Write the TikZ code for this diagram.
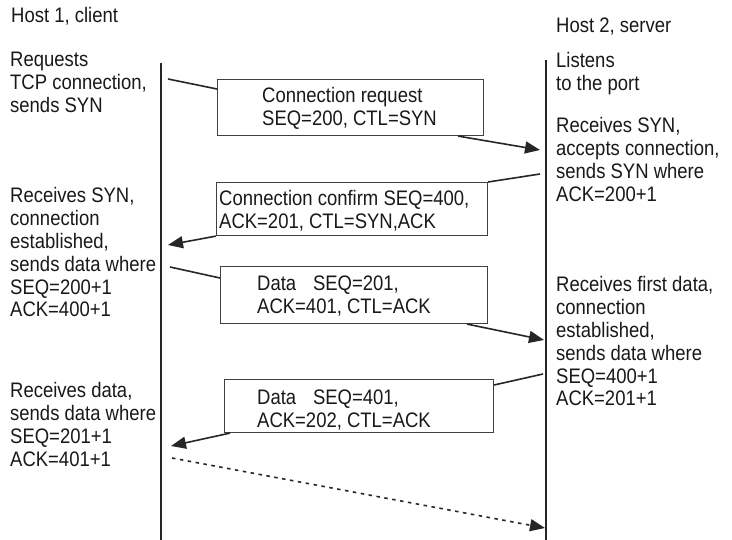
\documentclass[tikz,border=0pt]{standalone}
\usepackage{fontspec}
\setmainfont{Liberation Sans}[FakeStretch=0.88]
\usetikzlibrary{arrows.meta}
\newcommand{\fs}{\fontsize{21pt}{22.8pt}\selectfont}
\newcommand{\ml}[1]{\begin{tabular}[t]{@{}l@{}}#1\end{tabular}}
\begin{document}
\begin{tikzpicture}[x=1pt,y=-1pt,
  txt/.style={anchor=base west, inner sep=0pt, text=black!90, font=\fs},
  msgbox/.style={draw=black!75, line width=1.1pt, inner sep=0pt, anchor=north west},
  life/.style={line width=2pt, black!85},
  conn/.style={line width=1.6pt, black!85},
  arr/.style={conn, -{Triangle[length=15pt,width=12pt]}},
  dotarr/.style={arr, dash pattern=on 3.5pt off 4.5pt}]
\useasboundingbox (0,0) rectangle (732,540);
\fill[white] (0,0) rectangle (732,540);
% headers
\node[txt] (h1) at (11,23) {Host 1, client};
\node[txt] (h2) at (556,33) {Host 2, server};
% lifelines
\coordinate (LT) at (161,63); \coordinate (LB) at (161,540);
\coordinate (RT) at (546,60); \coordinate (RB) at (546,540);
\draw[life] (LT) -- (LB);
\draw[life] (RT) -- (RB);
% left texts
\node[txt] (l1) at (10,67) {\ml{Requests\\TCP connection,\\sends SYN}};
\node[txt] (l2) at (10,203) {\ml{Receives SYN,\\connection\\established,\\sends data where\\SEQ=200+1\\ACK=400+1}};
\node[txt] (l3) at (10,398) {\ml{Receives data,\\sends data where\\SEQ=201+1\\ACK=401+1}};
% right texts
\node[txt] (r1) at (556,68) {\ml{Listens\\to the port}};
\node[txt] (r2) at (556,133) {\ml{Receives SYN,\\accepts connection,\\sends SYN where\\ACK=200+1}};
\node[txt] (r3) at (556,292) {\ml{Receives first data,\\connection\\established,\\sends data where\\SEQ=400+1\\ACK=201+1}};
% boxes
\node[msgbox, minimum width=266pt, minimum height=56pt] (b1) at (217,79) {};
\node[msgbox, minimum width=271pt, minimum height=53pt] (b2) at (216,182) {};
\node[msgbox, minimum width=267pt, minimum height=57pt] (b3) at (220,266) {};
\node[msgbox, minimum width=269pt, minimum height=53pt] (b4) at (224,379) {};
\node[txt] (t1) at (262,103) {\ml{Connection request\\SEQ=200, CTL=SYN}};
\node[txt] (t2) at (219,206) {\ml{Connection confirm SEQ=400,\\ACK=201, CTL=SYN,ACK}};
\node[txt] (t3) at (257,291) {\ml{Data\hspace{0.8em}SEQ=201,\\ACK=401, CTL=ACK}};
\node[txt] (t4) at (257,405) {\ml{Data\hspace{0.8em}SEQ=401,\\ACK=202, CTL=ACK}};
% connector ends
\coordinate (c1s) at (168,79);  \coordinate (a1e) at (540,150);
\coordinate (c2s) at (540,174); \coordinate (a2e) at (168,245);
\coordinate (c3s) at (170,267); \coordinate (a3e) at (544,340);
\coordinate (c4s) at (543,374); \coordinate (a4e) at (171,446);
\coordinate (d1s) at (172,458); \coordinate (d1e) at (545,528);
% connectors
\draw[conn] (c1s) -- ([yshift=-10pt]b1.north west);
\draw[arr] ([xshift=-26pt]b1.south east) -- (a1e);
\draw[conn] (c2s) -- (b2.north east);
\draw[arr] (b2.south west) -- (a2e);
\draw[conn] (c3s) -- ([yshift=-12pt]b3.north west);
\draw[arr] ([xshift=-21pt]b3.south east) -- (a3e);
\draw[conn] (c4s) -- ([yshift=-6pt]b4.north east);
\draw[arr] ([xshift=6pt]b4.south west) -- (a4e);
\draw[dotarr] (d1s) -- (d1e);
\end{tikzpicture}
\end{document}
